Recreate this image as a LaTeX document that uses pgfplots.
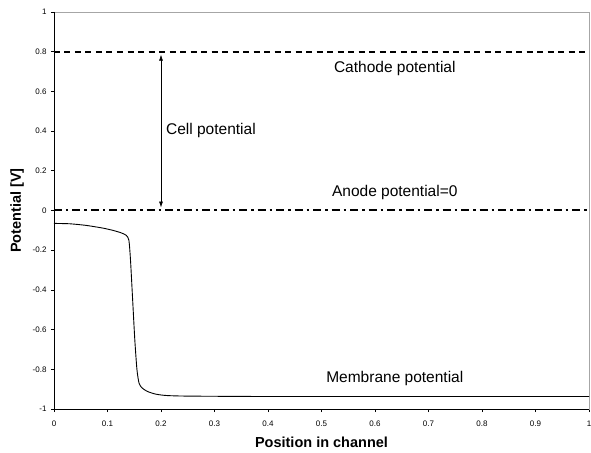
\documentclass[border=0pt]{standalone}
\usepackage{pgfplots}
\pgfplotsset{compat=1.18}
\usetikzlibrary{arrows.meta}
\usepackage{fontspec}
\setmainfont{Liberation Sans}
\begin{document}
\begin{tikzpicture}
\useasboundingbox (-54pt,-43pt) rectangle (537pt,409pt);
\begin{axis}[
  scale only axis,
  width=535pt, height=397pt,
  xmin=0, xmax=1, ymin=-1, ymax=1,
  xtick distance=0.1, ytick distance=0.2,
  xtick pos=bottom, ytick pos=left,
  tick align=outside,
  major tick length=3pt,
  tick style={black, line width=0.6pt},
  axis line style={gray!70, line width=0.6pt},
  ticklabel style={font=\fontsize{8}{9}\selectfont},
  /pgf/number format/assume math mode=true,
  /pgf/number format/fixed,
  xticklabel style={yshift=-5pt},
  yticklabel style={xshift=-1pt},
  xlabel={\textbf{Position in channel}},
  ylabel={\textbf{Potential [V]}},
  label style={font=\fontsize{14.5}{16}\selectfont},
  xlabel style={yshift=-4pt},
  ylabel style={yshift=2pt},
  clip=false,
]
% axis lines in black on left and bottom
\draw[black, line width=0.9pt] (rel axis cs:0,1) -- (rel axis cs:0,0) -- (rel axis cs:1,0);
% cathode potential
\addplot[black, line width=2.2pt, dash pattern=on 6pt off 4.5pt] coordinates {(0,0.8) (1,0.8)};
% anode potential
\addplot[black, line width=2pt, dash pattern=on 8pt off 4pt on 2.5pt off 4pt] coordinates {(0,0) (1,0)};
% membrane potential
\addplot[black, line width=0.9pt, smooth, tension=0.4] coordinates {
  (0,-0.065) (0.03,-0.067) (0.06,-0.075) (0.09,-0.088) (0.11,-0.100)
  (0.125,-0.112) (0.135,-0.125) (0.140,-0.15) (0.143,-0.25)
  (0.147,-0.45) (0.151,-0.65) (0.155,-0.80) (0.159,-0.87) (0.165,-0.895)
  (0.175,-0.912) (0.19,-0.925) (0.21,-0.932) (0.25,-0.935) (0.4,-0.937)
  (0.7,-0.937) (1,-0.937)};
% cell potential arrow
\draw[black, line width=0.6pt, {Latex[length=6pt,width=4pt]}-{Latex[length=6pt,width=4pt]}]
  (axis cs:0.2,0.785) -- (axis cs:0.2,0.015);
\node[anchor=west, font=\fontsize{15.5}{17}\selectfont] at (axis cs:0.203,0.405) {Cell potential};
\node[font=\fontsize{15.5}{17}\selectfont] at (axis cs:0.637,0.715) {Cathode potential};
\node[font=\fontsize{15.5}{17}\selectfont] at (axis cs:0.637,0.09) {Anode potential=0};
\node[font=\fontsize{15.5}{17}\selectfont] at (axis cs:0.637,-0.845) {Membrane potential};
\end{axis}
\end{tikzpicture}
\end{document}
